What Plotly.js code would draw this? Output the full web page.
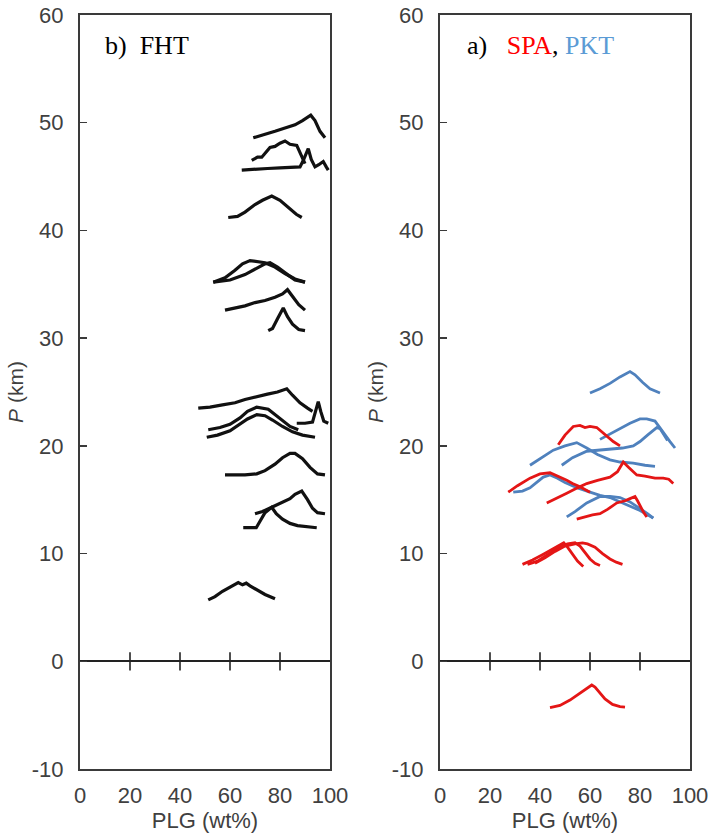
<!DOCTYPE html>
<html>
<head>
<meta charset="utf-8">
<script src="https://cdn.plot.ly/plotly-3.0.1.min.js"></script>
<style>html,body{margin:0;padding:0;background:#fff;}#chart{width:709px;height:837px;}</style>
</head>
<body>
<div id="chart"></div>
<script>
// ---------- DATA (PLG wt% vs P km) ----------
// Panel b) FHT : black curves
const fhtPLG = [
  [69.3,74,78,82,86,89,92.3,94,96,98],
  [68.7,71,72.7,74,76,78,80,82,84,86.7,88,90],
  [64.7,70,75,80,85,88,89.5,91.3,92.5,94,95.5,97.3,98.5,99.3],
  [59.3,63,66,70,73,76.7,80,84,86.5,88.7],
  [53.3,58,62,65,68,71,74,78,82,86,90],
  [53.3,60,66,70,74,76,79,83,86,90],
  [58,62,66,70,74,78,81,83,85,87.5,90],
  [75.3,77,79,81.3,83,85,87.5,90],
  [47.3,52,57,62,66,70.7,75,79,82.7,85,88,91,93],
  [86.7,90,93,94.3,95.3,96.3,97.5,99.3],
  [51.3,56,60,64,67,70.7,75.3,78,81,84,87.3],
  [50.7,55,60,64,67,70.7,74,77,81,85,89,94],
  [58,62,66,70.7,74,78,81,84,86,89,92,95,98],
  [70,73,76.7,80,84,86,88.7,91,93,95,98],
  [65.3,68,70.5,72,74,76.7,78.5,81,84,87,90,94.7],
  [51.3,54,57,60,62,63.3,65,66.5,68,71,74,78]
];
const fhtP = [
  [48.6,48.9,49.2,49.5,49.8,50.2,50.7,50.2,49.2,48.6],
  [46.5,46.8,46.8,47.2,47.7,47.8,48.1,48.3,48.0,47.9,47.2,46.2],
  [45.6,45.7,45.75,45.8,45.85,45.9,46.6,47.6,46.6,45.9,46.1,46.4,45.9,45.6],
  [41.2,41.3,41.7,42.4,42.8,43.2,42.8,42.0,41.5,41.2],
  [35.2,35.6,36.3,36.9,37.2,37.1,37.0,36.6,36.0,35.5,35.2],
  [35.2,35.4,35.9,36.4,36.9,37.0,36.6,35.9,35.4,35.2],
  [32.6,32.8,33.0,33.3,33.5,33.8,34.1,34.5,33.9,33.1,32.6],
  [30.7,30.9,31.8,32.8,32.0,31.3,30.8,30.7],
  [23.5,23.6,23.8,24.0,24.3,24.6,24.8,25.0,25.3,24.7,24.0,23.5,23.2],
  [22.1,22.1,22.2,23.2,24.1,23.2,22.3,22.1],
  [21.5,21.7,22.0,22.6,23.2,23.6,23.4,22.9,22.3,21.8,21.5],
  [20.8,21.0,21.4,22.0,22.5,22.9,22.8,22.4,21.8,21.3,21.0,20.8],
  [17.3,17.3,17.3,17.4,17.7,18.3,18.9,19.3,19.3,18.8,18.0,17.4,17.3],
  [13.7,13.9,14.3,14.7,15.1,15.5,15.8,15.0,14.2,13.8,13.7],
  [12.4,12.4,12.4,13.0,13.8,14.3,13.7,13.2,12.8,12.6,12.5,12.4],
  [5.7,6.0,6.5,6.9,7.2,7.3,7.1,7.25,7.0,6.6,6.2,5.8]
];
// Panel a) PKT : blue curves
const pktPLG = [
  [60,64,68,72,76,78,81,84,88],
  [64,68,72,76,80,82.7,86,89.3,92,94],
  [48.7,53,58.7,63,68,73,77.3,80,83,86.7,88,89.5,91],
  [36,40,45.3,50,54.7,58.7,63,68,72,77.3,82,86],
  [29.3,33,36,39,41.3,44,47,50,55,60,64,68,72,76,80,83,85.3],
  [50.7,54,58.7,62,64,68,72,76,80,83,85.3]
];
const pktP = [
  [24.9,25.3,25.8,26.4,26.9,26.6,25.9,25.3,24.9],
  [20.6,21.1,21.6,22.1,22.5,22.5,22.3,21.2,20.4,19.8],
  [18.2,18.9,19.5,19.6,19.7,19.8,20.0,20.4,21.0,21.7,21.6,21.0,20.5],
  [18.2,18.8,19.6,20.0,20.3,19.8,19.2,18.7,18.5,18.4,18.2,18.1],
  [15.7,15.8,16.1,16.7,17.1,17.3,17.0,16.6,16.1,15.7,15.4,15.2,14.8,14.4,14.0,13.6,13.3],
  [13.4,13.9,14.7,15.1,15.3,15.3,15.2,14.8,14.2,13.7,13.3]
];
// Panel a) SPA : red curves
const spaPLG = [
  [47.3,50,53.3,56,58,60,62.7,65.3,69.3,72],
  [27.3,31,36,40,44,47,50.7,53,56,60],
  [42.7,46,50.7,55,58.7,63,68,71,73.3,75.5,78.7,82,86,89.3,91.5,93.3],
  [54.7,58,61,64,67,70.7,74,76,78,79,80,81.5,82.7],
  [33,37,41,44,47,49.5,51,53,55,57.3],
  [35,39,43,47,51,54,56,58,60,62,64],
  [38,42,46,50,54,57,59,62,65,68,70.5,73],
  [44,48,52,55,58,60.7,62,64,66,69,72,74]
];
const spaP = [
  [20.1,21.0,21.8,21.9,21.7,21.8,21.7,21.2,20.4,20.0],
  [15.7,16.3,17.0,17.4,17.5,17.2,16.8,16.5,16.2,15.7],
  [14.7,15.1,15.6,16.1,16.5,16.8,17.1,17.6,18.5,18.0,17.3,17.2,17.0,17.0,16.9,16.5],
  [13.2,13.4,13.6,13.7,14.1,14.7,14.9,15.1,15.3,14.9,14.4,13.8,13.4],
  [9.0,9.4,9.9,10.3,10.7,11.0,10.6,10.0,9.3,8.8],
  [9.0,9.3,9.9,10.5,10.9,11.0,10.7,10.1,9.5,9.1,8.9],
  [9.1,9.6,10.2,10.7,10.9,11.0,10.9,10.6,10.0,9.5,9.2,9.0],
  [-4.3,-4.1,-3.6,-3.1,-2.6,-2.2,-2.4,-2.9,-3.5,-4.0,-4.2,-4.25]
];
// Axis ticks
const xTickVals = [0,20,40,60,80,100];
const xTickText = ['0','20','40','60','80','100'];
const yTickVals = [-10,0,10,20,30,40,50,60];
const yTickText = ['-10','0','10','20','30','40','50','60'];
const zeroTickPLG = [20,40,60,80];
const zeroTickP = [0,0,0,0];

// ---------- STYLE ----------
const BLACK = '#111111';
const RED = 'rgb(228,22,22)';
const BLUE = 'rgb(79,129,189)';
const AXC = '#3a3a3a';
const FONT = 'Liberation Sans, Arial, sans-serif';

const traces = [];
function addCurves(xs, ys, color, w, xa, ya) {
  for (let i = 0; i < xs.length; i++) {
    traces.push({type:'scatter', mode:'lines', x: xs[i], y: ys[i],
      xaxis: xa, yaxis: ya, showlegend:false, hoverinfo:'skip',
      line:{color: color, width: w, shape:'linear'}});
  }
}
addCurves(fhtPLG, fhtP, BLACK, 3.2, 'x', 'y');
addCurves(pktPLG, pktP, BLUE, 2.8, 'x2', 'y2');
addCurves(spaPLG, spaP, RED, 2.8, 'x2', 'y2');
// tick marks on the P = 0 line
['x','x2'].forEach((xa, k) => {
  traces.push({type:'scatter', mode:'markers', x: zeroTickPLG, y: zeroTickP,
    xaxis: xa, yaxis: k ? 'y2' : 'y', showlegend:false, hoverinfo:'skip',
    marker:{symbol:'line-ns-open', size:13, color:'#222', line:{color:'#222', width:1.6}}});
});

function xAxis(domain, anchor) {
  return {domain: domain, anchor: anchor, range:[0,100], tickvals: xTickVals, ticktext: xTickText,
    ticks:'', showgrid:false, zeroline:false, showline:true, mirror:true,
    linecolor: AXC, linewidth:2, automargin:false, ticklabelstandoff: 6,
    tickfont:{family: FONT, size:22, color:'#404040'},
    title:{text:'PLG (wt%)', font:{family: FONT, size:22, color:'#404040'}, standoff: 4}};
}
function yAxis(anchor) {
  return {domain:[0,1], anchor: anchor, range:[-10,60], tickvals: yTickVals, ticktext: yTickText,
    ticks:'inside', ticklen:7, tickwidth:1.5, tickcolor: AXC,
    showgrid:false, zeroline:true, zerolinecolor:'#222', zerolinewidth:2,
    showline:true, mirror:true, linecolor: AXC, linewidth:2, automargin:false,
    ticklabelstandoff: 10,
    tickfont:{family: FONT, size:22, color:'#404040'},
    title:{text:'<i>P</i> (km)', font:{family: FONT, size:21, color:'#404040'}, standoff: 2}};
}

const layout = {
  width:709, height:837,
  margin:{l:0, r:0, t:15, b:68},
  paper_bgcolor:'#fff', plot_bgcolor:'#fff',
  showlegend:false,
  xaxis: xAxis([80/709, 330/709], 'y'),
  yaxis: yAxis('x'),
  xaxis2: xAxis([440/709, 690/709], 'y2'),
  yaxis2: yAxis('x2'),
  annotations:[
    {xref:'x domain', yref:'y domain', x:0.09, y:0.96, xanchor:'left', yanchor:'middle',
     showarrow:false, text:'b)\u00A0\u00A0FHT',
     font:{family:'Liberation Serif, Times New Roman, serif', size:26, color:'#000'}},
    {xref:'x2 domain', yref:'y2 domain', x:0.1, y:0.96, xanchor:'left', yanchor:'middle',
     showarrow:false,
     text:'a)\u00A0\u00A0\u00A0<span style="color:#ff0000">SPA</span>, <span style="color:#5b9bd5">PKT</span>',
     font:{family:'Liberation Serif, Times New Roman, serif', size:26, color:'#000'}}
  ]
};

Plotly.newPlot('chart', traces, layout, {staticPlot:true, displayModeBar:false});
</script>
</body>
</html>
